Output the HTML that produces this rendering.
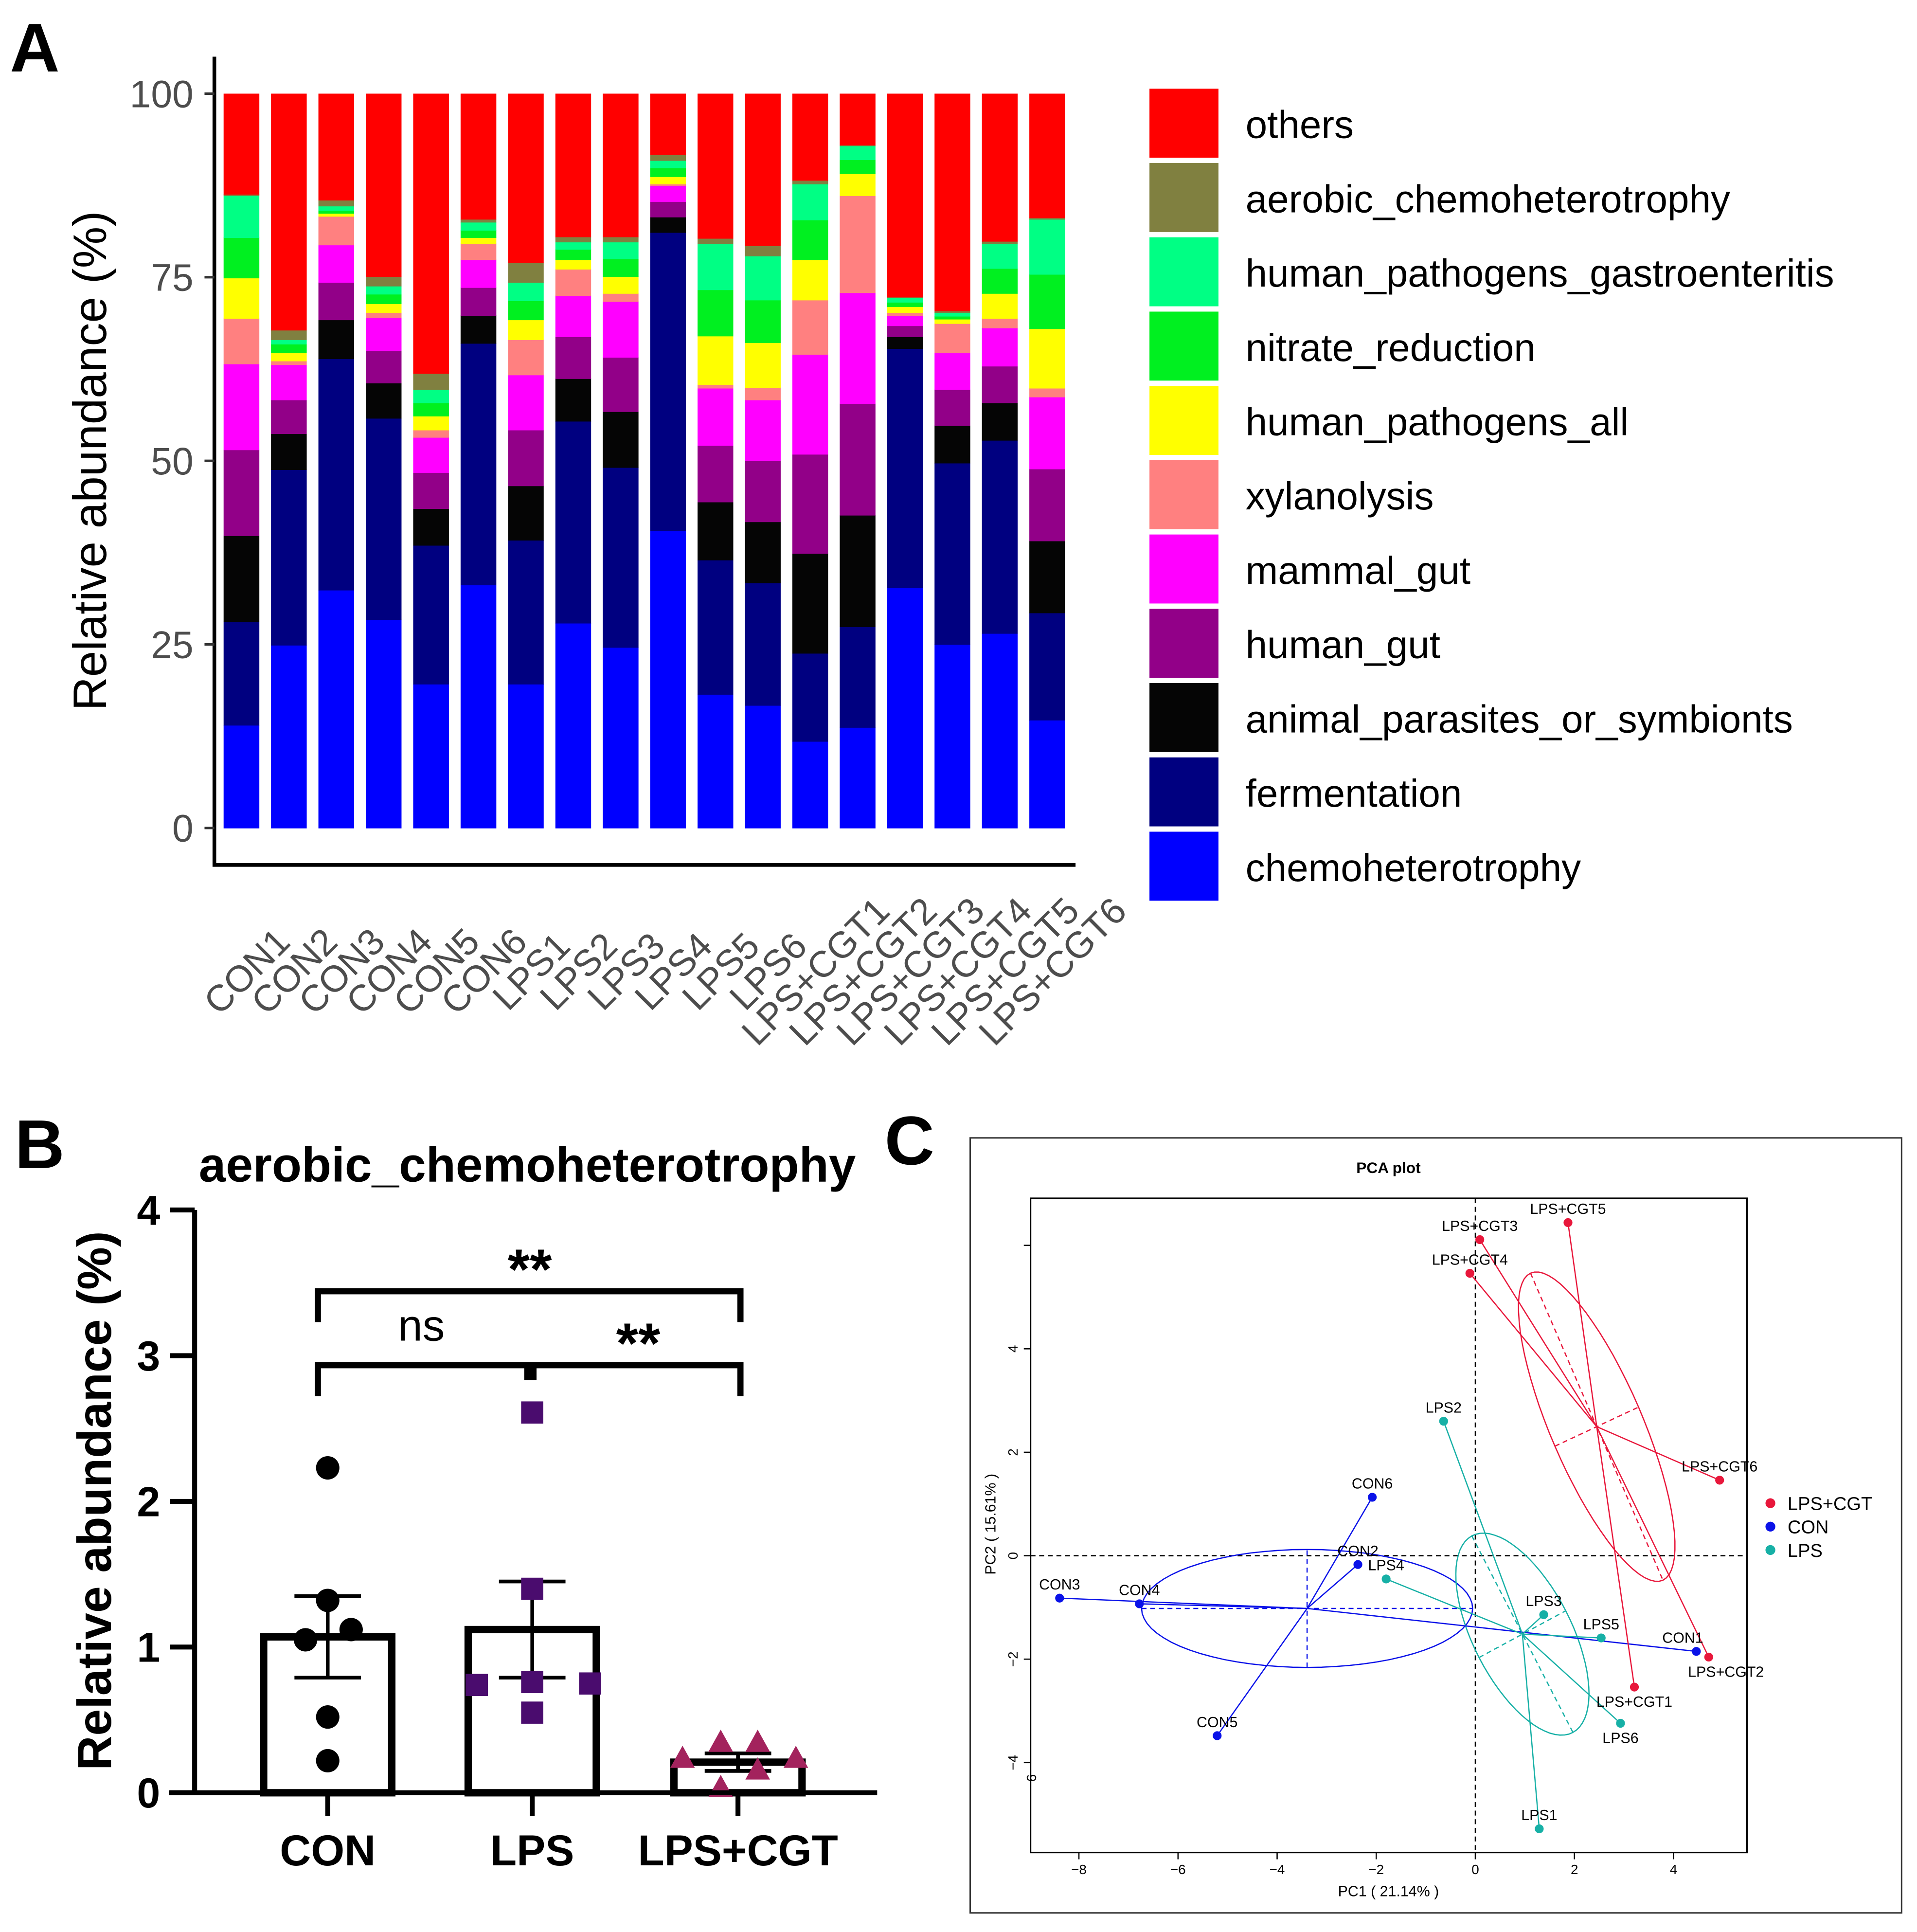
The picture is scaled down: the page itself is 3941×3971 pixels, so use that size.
<!DOCTYPE html>
<html><head><meta charset="utf-8"><style>
html,body{margin:0;padding:0;background:#fff;}
svg{display:block;font-family:"Liberation Sans",Arial,sans-serif;}
</style></head><body>
<svg id="fig" xmlns="http://www.w3.org/2000/svg" width="3941" height="3971" viewBox="0 0 1556 1568" preserveAspectRatio="none">
<rect x="0" y="0" width="1560" height="1572" fill="#fff"/>
<g id="panelA"></g>
<g id="panelB"></g>
<g id="panelC"></g>
</svg>
<script>
// ---------- Panel A data ----------
const samples = ["CON1","CON2","CON3","CON4","CON5","CON6","LPS1","LPS2","LPS3","LPS4","LPS5","LPS6","LPS+CGT1","LPS+CGT2","LPS+CGT3","LPS+CGT4","LPS+CGT5","LPS+CGT6"];
const categories = ["chemoheterotrophy","fermentation","animal_parasites_or_symbionts","human_gut","mammal_gut","xylanolysis","human_pathogens_all","nitrate_reduction","human_pathogens_gastroenteritis","aerobic_chemoheterotrophy","others"];
const catColors = ["#0000ff","#000080","#050505","#920088","#ff00ff","#ff8080","#ffff00","#00f020","#00ff84","#808040","#ff0000"];
const chemoheterotrophy = [14.0,24.9,32.4,28.4,19.6,33.1,19.6,27.9,24.6,40.5,18.2,16.7,11.8,13.7,32.7,25.0,26.5,14.7];
const fermentation = [14.1,23.9,31.5,27.4,18.9,32.9,19.6,27.5,24.5,40.6,18.3,16.7,12.0,13.7,32.6,24.7,26.3,14.6];
const animal_parasites = [11.7,4.9,5.3,4.8,5.0,3.8,7.4,5.8,7.6,2.1,7.9,8.3,13.6,15.2,1.6,5.1,5.1,9.8];
const human_gut = [11.7,4.6,5.1,4.4,4.9,3.8,7.6,5.7,7.4,2.1,7.7,8.3,13.5,15.2,1.5,4.9,5.0,9.8];
const mammal_gut = [11.7,4.8,5.1,4.5,4.8,3.8,7.5,5.6,7.6,2.2,7.8,8.3,13.6,15.1,1.4,5.0,5.2,9.8];
const xylanolysis = [6.2,0.5,3.9,0.7,1.0,2.2,4.8,3.6,1.1,0.2,0.5,1.7,7.4,13.2,0.4,4.0,1.3,1.2];
const human_pathogens_all = [5.5,1.1,0.4,1.2,1.9,0.8,2.7,1.3,2.3,1.0,6.6,6.1,5.5,3.0,0.8,0.6,3.4,8.1];
const nitrate_reduction = [5.5,1.2,0.4,1.3,1.8,1.0,2.6,1.4,2.4,1.2,6.3,5.8,5.4,1.9,0.6,0.4,3.4,7.4];
const human_pathogens_gastro = [5.7,0.6,0.6,1.1,1.8,1.1,2.5,1.0,2.3,1.0,6.3,6.0,4.9,1.9,0.6,0.5,3.4,7.5];
const aerobic_chemo = [0.2,1.3,0.8,1.3,2.2,0.4,2.7,0.7,0.7,0.8,0.7,1.4,0.5,0.1,0.1,0.2,0.3,0.2];
const others = [13.7,32.2,14.5,24.9,38.1,17.1,23.0,19.5,19.5,8.3,19.7,20.7,11.8,7.0,27.7,29.6,20.1,16.9];
const aTicks = [0,25,50,75,100];

// ---------- Panel B data ----------
const groupsB = ["CON","LPS","LPS+CGT"];
const meansB = [1.07,1.12,0.21];
const semB = [0.28,0.33,0.06];
const conPts = [2.23,1.32,1.12,1.05,0.52,0.22];
const lpsPts = [2.61,1.40,0.76,0.74,0.75,0.55];
const cgtPts = [0.23,0.34,0.34,0.23,0.03,0.15];
const bTicks = [0,1,2,3,4];

// ---------- Panel C data ----------
const pcaNames = ["CON1","CON2","CON3","CON4","CON5","CON6","LPS1","LPS2","LPS3","LPS4","LPS5","LPS6","LPS+CGT1","LPS+CGT2","LPS+CGT3","LPS+CGT4","LPS+CGT5","LPS+CGT6"];
const pcaGroup = [1,1,1,1,1,1,2,2,2,2,2,2,0,0,0,0,0,0];
const pc1 = [4.46,-2.37,-8.39,-6.78,-5.21,-2.08,1.29,-0.64,1.38,-1.80,2.54,2.93,3.21,4.71,0.09,-0.11,1.87,4.93];
const pc2 = [-1.85,-0.17,-0.82,-0.93,-3.48,1.13,-5.28,2.60,-1.14,-0.45,-1.59,-3.24,-2.54,-1.96,6.11,5.46,6.44,1.46];
const groupNames = ["LPS+CGT","CON","LPS"];
const groupColors = ["#e8173b","#0a12e8","#17b0a6"];
const ellMajor = [[1.336,-2.968],[3.34,0],[1.02,-1.90]];
const ellMinor = [[0.844,0.378],[0,1.14],[0.875,0.452]];
const cXTicks = [-8,-6,-4,-2,0,2,4];
const cYTicks = [-4,-2,0,2,4,6];

const NS="http://www.w3.org/2000/svg";
function mk(parent,tag,attrs,text){const e=document.createElementNS(NS,tag);for(const k in attrs)e.setAttribute(k,attrs[k]);if(text!==undefined)e.textContent=text;parent.appendChild(e);return e;}

// ===== Panel A =====
(function(){
const g=document.getElementById('panelA');
const yA=v=>672-v*5.96;
const xA=i=>196+i*38.47;
const series=[chemoheterotrophy,fermentation,animal_parasites,human_gut,mammal_gut,xylanolysis,human_pathogens_all,nitrate_reduction,human_pathogens_gastro,aerobic_chemo,others];
let t=mk(g,'text',{x:8,y:58,'font-size':56,'font-weight':'bold'},'A');


samples.forEach((s,i)=>{
  let cum=0;
  series.forEach((arr,k)=>{
    const v=arr[i];
    const r=mk(g,'rect',{x:xA(i)-14.5,y:yA(cum+v),width:29,height:Math.max(0,yA(cum)-yA(cum+v))+0.3,fill:catColors[k]});
    
    
    cum+=v;
  });
  const ax0=xA(i)+6, ay0=790;
  const lb=mk(g,'text',{x:ax0,y:ay0,'font-size':30,fill:'#4d4d4d','text-anchor':'middle','dominant-baseline':'middle',transform:`rotate(-45 ${ax0} ${ay0})`},s);
  
  
});
let ax=mk(g,'path',{d:'M174,46 V702 H873',fill:'none',stroke:'#000','stroke-width':3});


aTicks.forEach(v=>{
  const tk=mk(g,'line',{x1:166,x2:174,y1:yA(v),y2:yA(v),stroke:'#333','stroke-width':2});
  
  
  const tl=mk(g,'text',{x:157,y:yA(v)+11,'font-size':31,fill:'#4d4d4d','text-anchor':'end'},String(v));
  
  
});
const yt=mk(g,'text',{x:86,y:374,'font-size':38,'text-anchor':'middle',transform:'rotate(-90 86 374)'},'Relative abundance (%)');


for(let k=0;k<categories.length;k++){
  const idx=categories.length-1-k;
  const y0=72+k*60.3;
  const sw=mk(g,'rect',{x:933,y:y0,width:56,height:56,fill:catColors[idx]});
  
  
  const lt=mk(g,'text',{x:1011,y:y0+40,'font-size':31.6},categories[idx]);
  
  
}
})();

// ===== Panel B =====
(function(){
const g=document.getElementById('panelB');
const yB=v=>1455-v*118.25;
const xB=[266,432,599];
let t=mk(g,'text',{x:12,y:948,'font-size':56,'font-weight':'bold'},'B');


t=mk(g,'text',{x:428,y:959,'font-size':39.5,'font-weight':'bold','text-anchor':'middle'},'aerobic_chemoheterotrophy');


groupsB.forEach((gn,i)=>{
  const r=mk(g,'rect',{x:xB[i]-52,y:yB(meansB[i]),width:104,height:yB(0)-yB(meansB[i]),fill:'#fff',stroke:'#000','stroke-width':6});
  
  
  const e=mk(g,'path',{d:`M${xB[i]},${yB(meansB[i]-semB[i])} V${yB(meansB[i]+semB[i])} M${xB[i]-27},${yB(meansB[i]+semB[i])} h54 M${xB[i]-27},${yB(meansB[i]-semB[i])} h54`,stroke:'#000','stroke-width':3,fill:'none'});
  
  
  const xl=mk(g,'text',{x:xB[i],y:1514,'font-size':35,'font-weight':'bold','text-anchor':'middle'},gn);
  
  
});
const conDx=[0,0,19,-18,0,0];
conPts.forEach((v,j)=>{const c=mk(g,'circle',{cx:xB[0]+conDx[j],cy:yB(v),r:9.5,fill:'#000'});
  
  });
const lpsDx=[0,0,0,-45,47,0];
lpsPts.forEach((v,j)=>{const c=mk(g,'rect',{x:xB[1]+lpsDx[j]-9,y:yB(v)-9,width:18,height:18,fill:'#4a0c6e'});
  
  });
const cgtDx=[-45,-14,16,47,-14,16];
cgtPts.forEach((v,j)=>{const x=xB[2]+cgtDx[j],y=yB(v);const c=mk(g,'path',{d:`M${x},${y-11} L${x+10},${y+7} L${x-10},${y+7} Z`,fill:'#a3235d'});
  
  });
let ax=mk(g,'path',{d:'M158,982 V1455 M137,1455 H712',fill:'none',stroke:'#000','stroke-width':4});


bTicks.forEach(v=>{
  const tk=mk(g,'line',{x1:138,x2:158,y1:yB(v),y2:yB(v),stroke:'#000','stroke-width':4});
  
  
  const tl=mk(g,'text',{x:130,y:yB(v)+12,'font-size':34,'font-weight':'bold','text-anchor':'end'},String(v));
  
  
});
xB.forEach(x=>{const tk=mk(g,'line',{x1:x,x2:x,y1:1455,y2:1474,stroke:'#000','stroke-width':4});
  
  });
const yt=mk(g,'text',{x:90,y:1218,'font-size':39,'font-weight':'bold','text-anchor':'middle',transform:'rotate(-90 90 1218)'},'Relative abundance (%)');


const br=mk(g,'path',{d:'M258,1073 V1048 H601 V1073 M258,1133 V1108 H428 V1120 M433,1120 V1108 H601 V1133',fill:'none',stroke:'#000','stroke-width':5});


t=mk(g,'text',{x:430,y:1046,'font-size':46,'font-weight':'bold','text-anchor':'middle'},'**');


t=mk(g,'text',{x:342,y:1088,'font-size':36,'text-anchor':'middle'},'ns');


t=mk(g,'text',{x:518,y:1106,'font-size':46,'font-weight':'bold','text-anchor':'middle'},'**');


})();

// ===== Panel C =====
(function(){
const g=document.getElementById('panelC');
const xC=v=>1197.5+v*40.22;
const yC=v=>1262.6-v*41.98;
let t=mk(g,'text',{x:718,y:945,'font-size':56,'font-weight':'bold'},'C');


let r=mk(g,'rect',{x:787.5,y:923.5,width:756,height:629,fill:'none',stroke:'#333','stroke-width':1.2});


r=mk(g,'rect',{x:836.5,y:972.5,width:581.5,height:531,fill:'none',stroke:'#000','stroke-width':1.2});


t=mk(g,'text',{x:1127,y:952,'font-size':12.5,'font-weight':'bold','text-anchor':'middle'},'PCA plot');


let z=mk(g,'path',{d:`M836.5,${yC(0)} H1418 M${xC(0)},972.5 V1503.5`,stroke:'#000','stroke-width':1,'stroke-dasharray':'4,3',fill:'none'});


cXTicks.forEach(v=>{
  const tk=mk(g,'line',{x1:xC(v),x2:xC(v),y1:1503.5,y2:1509,stroke:'#000','stroke-width':1});
  
  
  const tl=mk(g,'text',{x:xC(v),y:1521,'font-size':11,'text-anchor':'middle'},v<0?'\u2212'+(-v):String(v));
  
  
});
cYTicks.forEach(v=>{
  const tk=mk(g,'line',{x1:831,x2:836.5,y1:yC(v),y2:yC(v),stroke:'#000','stroke-width':1});
  
  
  if(v!==6){
  const tl=mk(g,'text',{x:826,y:yC(v),'font-size':11,'text-anchor':'middle',transform:`rotate(-90 826 ${yC(v)})`},v<0?'\u2212'+(-v):String(v));
  
  }
});
t=mk(g,'text',{x:841,y:1443,'font-size':11,'text-anchor':'middle',transform:'rotate(-90 841 1443)'},'6');


t=mk(g,'text',{x:1127,y:1539,'font-size':12,'text-anchor':'middle'},'PC1 ( 21.14% )');


t=mk(g,'text',{x:808,y:1237,'font-size':12,'text-anchor':'middle',transform:'rotate(-90 808 1237)'},'PC2 ( 15.61% )');


const cx=[0,0,0],cy=[0,0,0],cn=[0,0,0];
pc1.forEach((v,i)=>{cx[pcaGroup[i]]+=v;cy[pcaGroup[i]]+=pc2[i];cn[pcaGroup[i]]++;});
for(let k=0;k<3;k++){cx[k]/=cn[k];cy[k]/=cn[k];}
for(let k=0;k<3;k++){
  let d='';
  for(let s=0;s<=72;s++){const a=s/72*2*Math.PI;
    const px=cx[k]+Math.cos(a)*ellMajor[k][0]+Math.sin(a)*ellMinor[k][0];
    const py=cy[k]+Math.cos(a)*ellMajor[k][1]+Math.sin(a)*ellMinor[k][1];
    d+=(s?'L':'M')+xC(px).toFixed(1)+','+yC(py).toFixed(1);}
  const e=mk(g,'path',{d:d+'Z',fill:'none',stroke:groupColors[k],'stroke-width':1});
  
  
  const ax=mk(g,'path',{d:`M${xC(cx[k]-ellMajor[k][0])},${yC(cy[k]-ellMajor[k][1])} L${xC(cx[k]+ellMajor[k][0])},${yC(cy[k]+ellMajor[k][1])} M${xC(cx[k]-ellMinor[k][0])},${yC(cy[k]-ellMinor[k][1])} L${xC(cx[k]+ellMinor[k][0])},${yC(cy[k]+ellMinor[k][1])}`,fill:'none',stroke:groupColors[k],'stroke-width':1,'stroke-dasharray':'4,3'});
  
  
}
const below=["LPS+CGT2","LPS+CGT1","LPS6"];
pcaNames.forEach((n,i)=>{
  const k=pcaGroup[i];
  const l=mk(g,'line',{x1:xC(cx[k]),y1:yC(cy[k]),x2:xC(pc1[i]),y2:yC(pc2[i]),stroke:groupColors[k],'stroke-width':1});
  
  
});
pcaNames.forEach((n,i)=>{
  const k=pcaGroup[i];
  const c=mk(g,'circle',{cx:xC(pc1[i]),cy:yC(pc2[i]),r:3.6,fill:groupColors[k]});
  
  
  const b=below.includes(n);
  let lx=xC(pc1[i]), ly=yC(pc2[i])+(b?16:-7);
  if(n==="LPS+CGT2") lx+=14;
  if(n==="CON1") lx-=11;
  const tl=mk(g,'text',{x:lx,y:ly,'font-size':12,'text-anchor':'middle'},n);
  
  
});
groupNames.forEach((n,k)=>{
  const y=1220+k*19;
  const c=mk(g,'circle',{cx:1437,cy:y,r:4,fill:groupColors[k]});
  
  
  const tl=mk(g,'text',{x:1451,y:y+5.5,'font-size':15},n);
  
  
});
})();
</script>
</body></html>
